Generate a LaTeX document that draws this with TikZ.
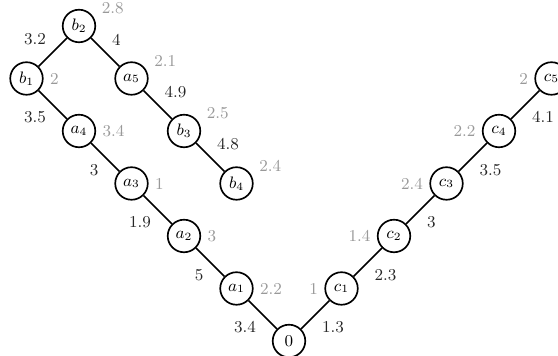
\documentclass[tikz,border=0pt]{standalone}
\usepackage{amsmath,amssymb}
\usepackage{xcolor}
\usepackage{tikz}
\usetikzlibrary{positioning}

\begin{document}
\begin{tikzpicture}[
  vert/.style={draw,circle,line width=0.9pt,minimum size=0.62cm,inner sep=0pt,font=\small},
  val/.style={text=black!40,font=\small},
  wt/.style={font=\small,text=black!85},
  edge/.style={line width=0.8pt},
]
\useasboundingbox (-5.505,-0.286) rectangle (5.124,6.495);
% left branch
\node[vert] (z) at (0,0) {$0$};
\node[vert,label={[val]right:2.2}] (a1) at (-1,1) {$a_1$};
\node[vert,label={[val]right:3}] (a2) at (-2,2) {$a_2$};
\node[vert,label={[val]right:1}] (a3) at (-3,3) {$a_3$};
\node[vert,label={[val]right:3.4}] (a4) at (-4,4) {$a_4$};
\node[vert,label={[val]right:2}] (b1) at (-5,5) {$b_1$};
\node[vert,label={[val]18:2.8}] (b2) at (-4,6) {$b_2$};
\node[vert,label={[val]18:2.1}] (a5) at (-3,5) {$a_5$};
\node[vert,label={[val]18:2.5}] (b3) at (-2,4) {$b_3$};
\node[vert,label={[val]18:2.4}] (b4) at (-1,3) {$b_4$};
% right branch
\node[vert,label={[val]left:1}] (c1) at (1,1) {$c_1$};
\node[vert,label={[val]left:1.4}] (c2) at (2,2) {$c_2$};
\node[vert,label={[val]left:2.4}] (c3) at (3,3) {$c_3$};
\node[vert,label={[val]left:2.2}] (c4) at (4,4) {$c_4$};
\node[vert,label={[val]left:2}] (c5) at (5,5) {$c_5$};
\draw[edge] (z) -- node[wt,below left] {3.4} (a1);
\draw[edge] (a1) -- node[wt,below left] {5} (a2);
\draw[edge] (a2) -- node[wt,below left] {1.9} (a3);
\draw[edge] (a3) -- node[wt,below left] {3} (a4);
\draw[edge] (a4) -- node[wt,below left] {3.5} (b1);
\draw[edge] (b1) -- node[wt,above left] {3.2} (b2);
\draw[edge] (b2) -- node[wt,above right] {4} (a5);
\draw[edge] (a5) -- node[wt,above right] {4.9} (b3);
\draw[edge] (b3) -- node[wt,above right] {4.8} (b4);
\draw[edge] (z) -- node[wt,below right] {1.3} (c1);
\draw[edge] (c1) -- node[wt,below right] {2.3} (c2);
\draw[edge] (c2) -- node[wt,below right] {3} (c3);
\draw[edge] (c3) -- node[wt,below right] {3.5} (c4);
\draw[edge] (c4) -- node[wt,below right] {4.1} (c5);
\end{tikzpicture}
\end{document}
